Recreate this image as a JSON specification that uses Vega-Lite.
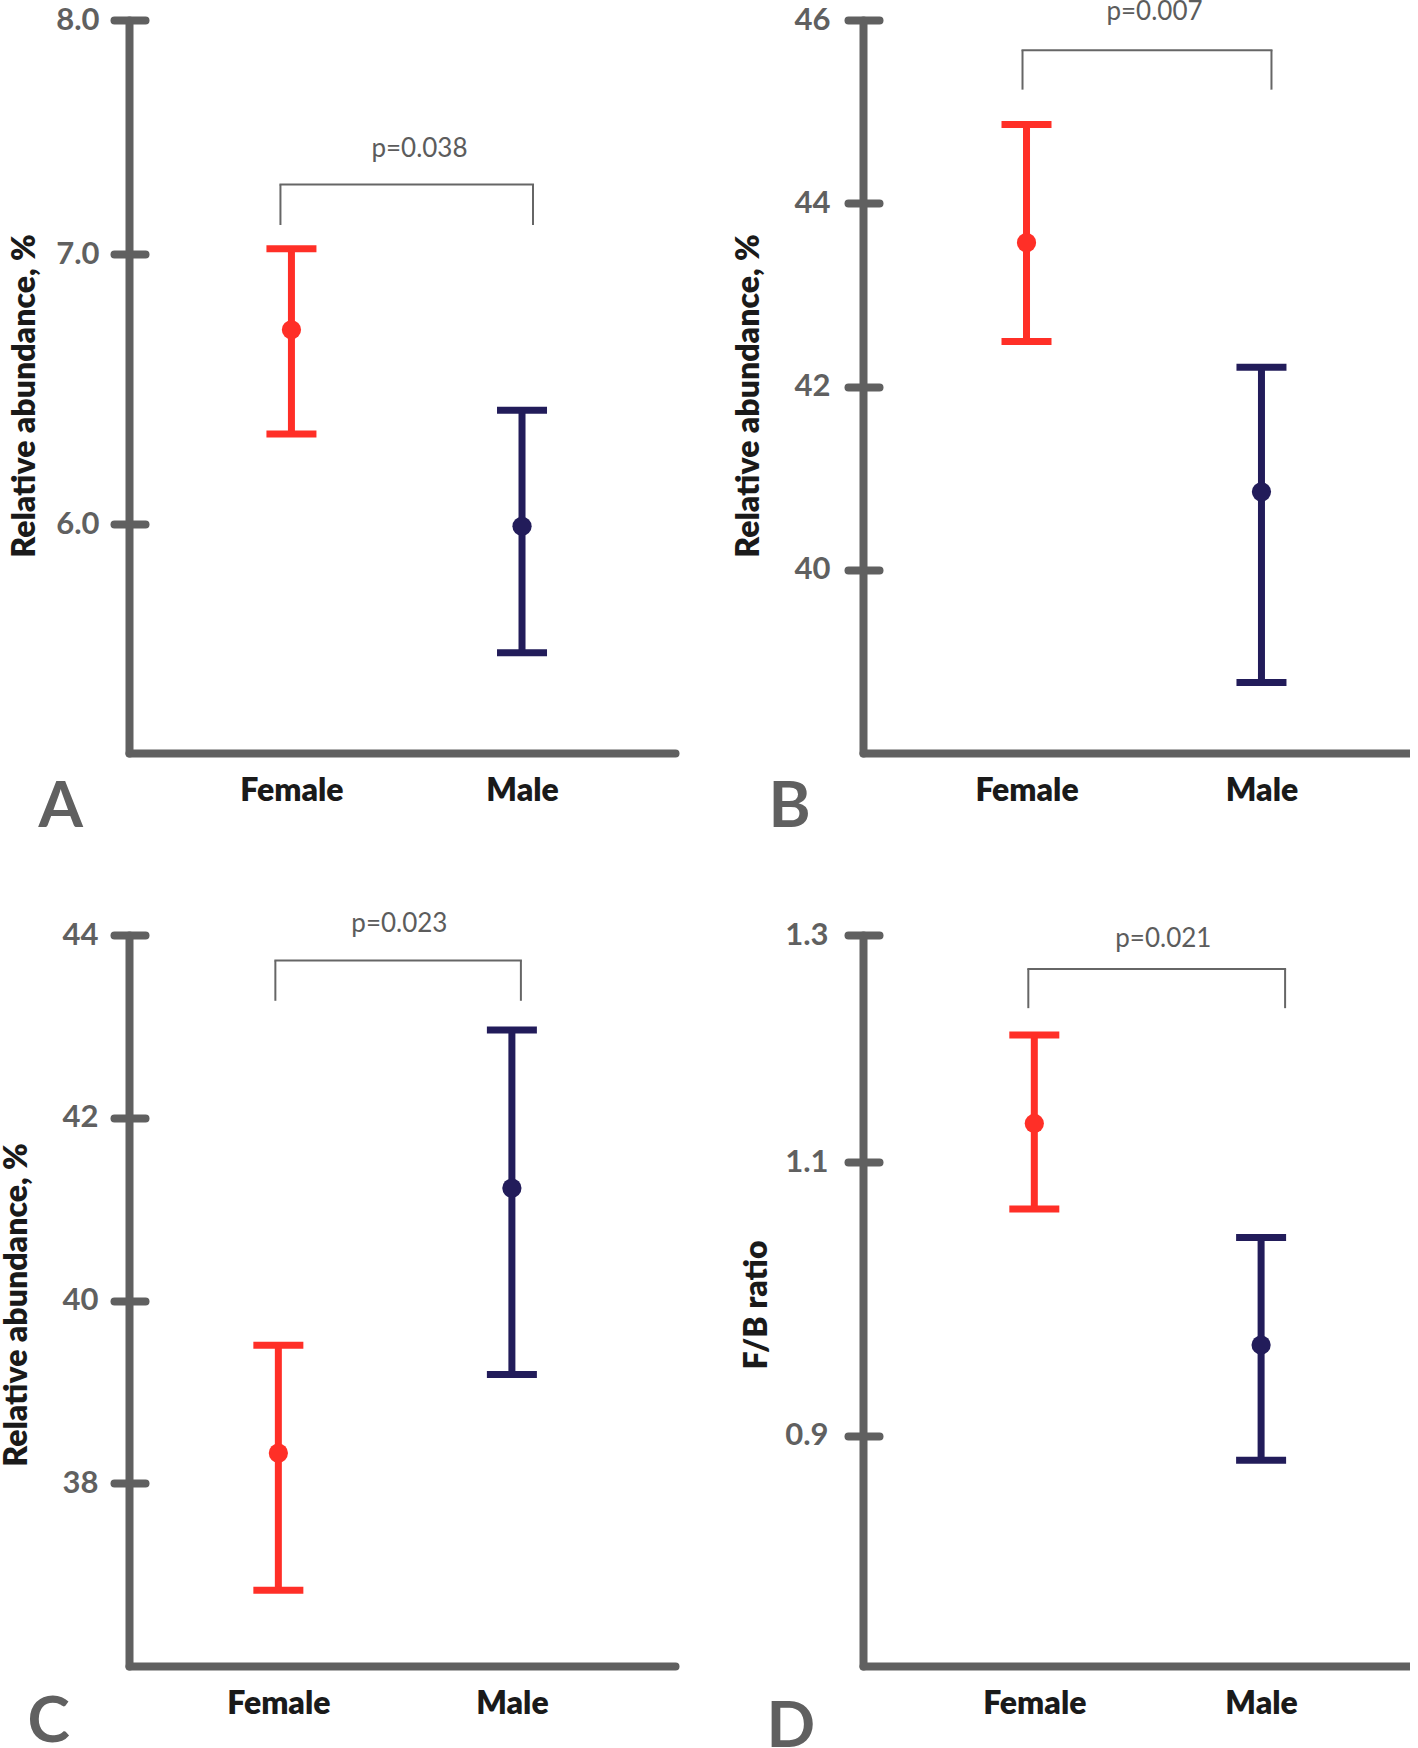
{
  "$schema": "https://vega.github.io/schema/vega-lite/v6.json",
  "background": "white",
  "padding": {"left": 0, "top": -1, "right": 0, "bottom": 0},
  "config": {
    "view": {"stroke": null},
    "tick": {"opacity": 1},
    "axis": {
      "grid": false,
      "labelFont": "Lato",
      "titleFont": "Lato",
      "domainColor": "#606060",
      "domainWidth": 8,
      "domainCap": "round",
      "tickColor": "#606060",
      "labelFlush": false,
      "labelOverlap": false
    },
    "axisY": {
      "ticks": false,
      "labelFontSize": 31,
      "labelFontWeight": "bold",
      "labelColor": "#606060",
      "titleFontSize": 32,
      "titleFontWeight": 800,
      "titleColor": "#1a1a1a",
      "minExtent": 70,
      "maxExtent": 70
    },
    "axisX": {
      "ticks": false,
      "labelFontSize": 32,
      "labelFontWeight": 800,
      "labelColor": "#1a1a1a",
      "labelPadding": 22,
      "labelAngle": 0,
      "titleFontSize": 64,
      "titleFontWeight": "bold",
      "titleColor": "#606060",
      "titleAlign": "left",
      "titleBaseline": "alphabetic",
      "titleAngle": 0
    }
  },
  "datasets": {
    "A": [
      {"sex": "Female", "lo": 6.317, "mean": 6.704, "hi": 7.021},
      {"sex": "Male", "lo": 5.576, "mean": 5.993, "hi": 6.403}
    ],
    "sigA": [{"from": "Female", "to": "Male", "top": 7.283, "leg": 7.117, "ptext": 7.397, "label": "p=0.038"}],
    "B": [
      {"sex": "Female", "lo": 42.49, "mean": 43.57, "hi": 44.86},
      {"sex": "Male", "lo": 38.77, "mean": 40.85, "hi": 42.21}
    ],
    "sigB": [{"from": "Female", "to": "Male", "top": 45.67, "leg": 45.24, "ptext": 46.0, "label": "p=0.007"}],
    "C": [
      {"sex": "Female", "lo": 36.83, "mean": 38.33, "hi": 39.51},
      {"sex": "Male", "lo": 39.19, "mean": 41.23, "hi": 42.96}
    ],
    "sigC": [{"from": "Female", "to": "Male", "top": 43.72, "leg": 43.28, "ptext": 44.03, "label": "p=0.023"}],
    "D": [
      {"sex": "Female", "lo": 1.063, "mean": 1.132, "hi": 1.208},
      {"sex": "Male", "lo": 0.884, "mean": 0.962, "hi": 1.041}
    ],
    "sigD": [{"from": "Female", "to": "Male", "top": 1.268, "leg": 1.232, "ptext": 1.289, "label": "p=0.021"}]
  },
  "columns": 2,
  "spacing": {"row": 72, "column": 57},
  "concat": [
    {
      "width": 546, "height": 733,
      "data": {"name": "A"},
      "layer": [
        {"mark": {"type": "rule", "strokeWidth": 7},
         "encoding": {
           "x": {"field": "sex", "type": "nominal", "scale": {"type": "point", "domain": ["Female", "Male"], "padding": 0.684, "align": 0.515},
                 "axis": {"title": "A", "titleX": -91, "titleY": 73}},
           "y": {"field": "lo", "type": "quantitative", "scale": {"type": "log", "domain": [5.266, 8], "nice": false},
                 "axis": {"title": "Relative abundance, %", "values": [6, 7, 8], "format": ".1f", "labelPadding": 30, "titlePadding": 17.7, "titleY": 375.5}},
           "y2": {"field": "hi"},
           "color": {"field": "sex", "type": "nominal", "scale": {"domain": ["Female", "Male"], "range": ["#ff2f27", "#221c5a"]}, "legend": null}
         }},
        {"mark": {"type": "tick", "thickness": 7, "size": 50, "opacity": 1},
         "encoding": {"x": {"field": "sex", "type": "nominal"}, "y": {"field": "hi", "type": "quantitative", "axis": null}, "color": {"field": "sex", "type": "nominal", "legend": null}}},
        {"mark": {"type": "tick", "thickness": 7, "size": 50, "opacity": 1},
         "encoding": {"x": {"field": "sex", "type": "nominal"}, "y": {"field": "lo", "type": "quantitative", "axis": null}, "color": {"field": "sex", "type": "nominal", "legend": null}}},
        {"mark": {"type": "point", "filled": true, "shape": "circle", "size": 370, "opacity": 1},
         "encoding": {"x": {"field": "sex", "type": "nominal"},
           "y": {"field": "mean", "type": "quantitative",
                 "axis": {"orient": "left", "offset": -16, "domain": false, "labels": false, "ticks": true, "tickSize": 31, "tickWidth": 8, "tickCap": "round", "title": null, "values": [6, 7, 8], "minExtent": 0, "maxExtent": 0}},
           "color": {"field": "sex", "type": "nominal", "legend": null}}},
        {"data": {"name": "sigA"}, "mark": {"type": "rule", "strokeWidth": 2, "color": "#666666", "xOffset": -11, "x2Offset": 11, "strokeCap": "square"},
         "encoding": {"x": {"field": "from", "type": "nominal"}, "x2": {"field": "to"}, "y": {"field": "top", "type": "quantitative", "axis": null}}},
        {"data": {"name": "sigA"}, "mark": {"type": "rule", "strokeWidth": 2, "color": "#666666", "xOffset": -11},
         "encoding": {"x": {"field": "from", "type": "nominal"}, "y": {"field": "top", "type": "quantitative", "axis": null}, "y2": {"field": "leg"}}},
        {"data": {"name": "sigA"}, "mark": {"type": "rule", "strokeWidth": 2, "color": "#666666", "xOffset": 11},
         "encoding": {"x": {"field": "to", "type": "nominal"}, "y": {"field": "top", "type": "quantitative", "axis": null}, "y2": {"field": "leg"}}},
        {"data": {"name": "sigA"}, "mark": {"type": "text", "font": "Lato", "fontSize": 26, "color": "#5c5c5c", "align": "center", "baseline": "alphabetic", "xOffset": 128},
         "encoding": {"x": {"field": "from", "type": "nominal"}, "y": {"field": "ptext", "type": "quantitative", "axis": null}, "text": {"field": "label"}}}
      ],
      "resolve": {"axis": {"y": "independent"}}
    },
    {
      "width": 547, "height": 733,
      "data": {"name": "B"},
      "layer": [
        {"mark": {"type": "rule", "strokeWidth": 7},
         "encoding": {
           "x": {"field": "sex", "type": "nominal", "scale": {"type": "point", "domain": ["Female", "Male"], "padding": 0.664, "align": 0.524},
                 "axis": {"title": "B", "titleX": -95, "titleY": 73}},
           "y": {"field": "lo", "type": "quantitative", "scale": {"domain": [38, 46], "nice": false, "zero": false},
                 "axis": {"title": "Relative abundance, %", "values": [40, 42, 44, 46], "format": "d", "labelPadding": 33, "titlePadding": 27.6, "titleY": 375.5}},
           "y2": {"field": "hi"},
           "color": {"field": "sex", "type": "nominal", "scale": {"domain": ["Female", "Male"], "range": ["#ff2f27", "#221c5a"]}, "legend": null}
         }},
        {"mark": {"type": "tick", "thickness": 7, "size": 50, "opacity": 1},
         "encoding": {"x": {"field": "sex", "type": "nominal"}, "y": {"field": "hi", "type": "quantitative", "axis": null}, "color": {"field": "sex", "type": "nominal", "legend": null}}},
        {"mark": {"type": "tick", "thickness": 7, "size": 50, "opacity": 1},
         "encoding": {"x": {"field": "sex", "type": "nominal"}, "y": {"field": "lo", "type": "quantitative", "axis": null}, "color": {"field": "sex", "type": "nominal", "legend": null}}},
        {"mark": {"type": "point", "filled": true, "shape": "circle", "size": 370, "opacity": 1},
         "encoding": {"x": {"field": "sex", "type": "nominal"},
           "y": {"field": "mean", "type": "quantitative",
                 "axis": {"orient": "left", "offset": -16, "domain": false, "labels": false, "ticks": true, "tickSize": 31, "tickWidth": 8, "tickCap": "round", "title": null, "values": [40, 42, 44, 46], "minExtent": 0, "maxExtent": 0}},
           "color": {"field": "sex", "type": "nominal", "legend": null}}},
        {"data": {"name": "sigB"}, "mark": {"type": "rule", "strokeWidth": 2, "color": "#666666", "xOffset": -4, "x2Offset": 10, "strokeCap": "square"},
         "encoding": {"x": {"field": "from", "type": "nominal"}, "x2": {"field": "to"}, "y": {"field": "top", "type": "quantitative", "axis": null}}},
        {"data": {"name": "sigB"}, "mark": {"type": "rule", "strokeWidth": 2, "color": "#666666", "xOffset": -4},
         "encoding": {"x": {"field": "from", "type": "nominal"}, "y": {"field": "top", "type": "quantitative", "axis": null}, "y2": {"field": "leg"}}},
        {"data": {"name": "sigB"}, "mark": {"type": "rule", "strokeWidth": 2, "color": "#666666", "xOffset": 10},
         "encoding": {"x": {"field": "to", "type": "nominal"}, "y": {"field": "top", "type": "quantitative", "axis": null}, "y2": {"field": "leg"}}},
        {"data": {"name": "sigB"}, "mark": {"type": "text", "font": "Lato", "fontSize": 26, "color": "#5c5c5c", "align": "center", "baseline": "alphabetic", "xOffset": 128},
         "encoding": {"x": {"field": "from", "type": "nominal"}, "y": {"field": "ptext", "type": "quantitative", "axis": null}, "text": {"field": "label"}}}
      ],
      "resolve": {"axis": {"y": "independent"}}
    },
    {
      "width": 546, "height": 731,
      "data": {"name": "C"},
      "layer": [
        {"mark": {"type": "rule", "strokeWidth": 7},
         "encoding": {
           "x": {"field": "sex", "type": "nominal", "scale": {"type": "point", "domain": ["Female", "Male"], "padding": 0.669, "align": 0.478},
                 "axis": {"title": "C", "titleX": -102, "titleY": 75}},
           "y": {"field": "lo", "type": "quantitative", "scale": {"domain": [36, 44], "nice": false, "zero": false},
                 "axis": {"title": "Relative abundance, %", "values": [38, 40, 42, 44], "format": "d", "labelPadding": 31, "titlePadding": 25.5, "titleY": 369.5}},
           "y2": {"field": "hi"},
           "color": {"field": "sex", "type": "nominal", "scale": {"domain": ["Female", "Male"], "range": ["#ff2f27", "#221c5a"]}, "legend": null}
         }},
        {"mark": {"type": "tick", "thickness": 7, "size": 50, "opacity": 1},
         "encoding": {"x": {"field": "sex", "type": "nominal"}, "y": {"field": "hi", "type": "quantitative", "axis": null}, "color": {"field": "sex", "type": "nominal", "legend": null}}},
        {"mark": {"type": "tick", "thickness": 7, "size": 50, "opacity": 1},
         "encoding": {"x": {"field": "sex", "type": "nominal"}, "y": {"field": "lo", "type": "quantitative", "axis": null}, "color": {"field": "sex", "type": "nominal", "legend": null}}},
        {"mark": {"type": "point", "filled": true, "shape": "circle", "size": 370, "opacity": 1},
         "encoding": {"x": {"field": "sex", "type": "nominal"},
           "y": {"field": "mean", "type": "quantitative",
                 "axis": {"orient": "left", "offset": -16, "domain": false, "labels": false, "ticks": true, "tickSize": 31, "tickWidth": 8, "tickCap": "round", "title": null, "values": [38, 40, 42, 44], "minExtent": 0, "maxExtent": 0}},
           "color": {"field": "sex", "type": "nominal", "legend": null}}},
        {"data": {"name": "sigC"}, "mark": {"type": "rule", "strokeWidth": 2, "color": "#666666", "xOffset": -3, "x2Offset": 9, "strokeCap": "square"},
         "encoding": {"x": {"field": "from", "type": "nominal"}, "x2": {"field": "to"}, "y": {"field": "top", "type": "quantitative", "axis": null}}},
        {"data": {"name": "sigC"}, "mark": {"type": "rule", "strokeWidth": 2, "color": "#666666", "xOffset": -3},
         "encoding": {"x": {"field": "from", "type": "nominal"}, "y": {"field": "top", "type": "quantitative", "axis": null}, "y2": {"field": "leg"}}},
        {"data": {"name": "sigC"}, "mark": {"type": "rule", "strokeWidth": 2, "color": "#666666", "xOffset": 9},
         "encoding": {"x": {"field": "to", "type": "nominal"}, "y": {"field": "top", "type": "quantitative", "axis": null}, "y2": {"field": "leg"}}},
        {"data": {"name": "sigC"}, "mark": {"type": "text", "font": "Lato", "fontSize": 26, "color": "#5c5c5c", "align": "center", "baseline": "alphabetic", "xOffset": 121},
         "encoding": {"x": {"field": "from", "type": "nominal"}, "y": {"field": "ptext", "type": "quantitative", "axis": null}, "text": {"field": "label"}}}
      ],
      "resolve": {"axis": {"y": "independent"}}
    },
    {
      "width": 547, "height": 731,
      "data": {"name": "D"},
      "layer": [
        {"mark": {"type": "rule", "strokeWidth": 7},
         "encoding": {
           "x": {"field": "sex", "type": "nominal", "scale": {"type": "point", "domain": ["Female", "Male"], "padding": 0.706, "align": 0.535},
                 "axis": {"title": "D", "titleX": -97, "titleY": 80}},
           "y": {"field": "lo", "type": "quantitative", "scale": {"type": "log", "domain": [0.76, 1.3], "nice": false},
                 "axis": {"title": "F/B ratio", "values": [0.9, 1.1, 1.3], "format": ".1f", "labelPadding": 35, "titlePadding": 20, "titleY": 369.5}},
           "y2": {"field": "hi"},
           "color": {"field": "sex", "type": "nominal", "scale": {"domain": ["Female", "Male"], "range": ["#ff2f27", "#221c5a"]}, "legend": null}
         }},
        {"mark": {"type": "tick", "thickness": 7, "size": 50, "opacity": 1},
         "encoding": {"x": {"field": "sex", "type": "nominal"}, "y": {"field": "hi", "type": "quantitative", "axis": null}, "color": {"field": "sex", "type": "nominal", "legend": null}}},
        {"mark": {"type": "tick", "thickness": 7, "size": 50, "opacity": 1},
         "encoding": {"x": {"field": "sex", "type": "nominal"}, "y": {"field": "lo", "type": "quantitative", "axis": null}, "color": {"field": "sex", "type": "nominal", "legend": null}}},
        {"mark": {"type": "point", "filled": true, "shape": "circle", "size": 370, "opacity": 1},
         "encoding": {"x": {"field": "sex", "type": "nominal"},
           "y": {"field": "mean", "type": "quantitative",
                 "axis": {"orient": "left", "offset": -16, "domain": false, "labels": false, "ticks": true, "tickSize": 31, "tickWidth": 8, "tickCap": "round", "title": null, "values": [0.9, 1.1, 1.3], "minExtent": 0, "maxExtent": 0}},
           "color": {"field": "sex", "type": "nominal", "legend": null}}},
        {"data": {"name": "sigD"}, "mark": {"type": "rule", "strokeWidth": 2, "color": "#666666", "xOffset": -6, "x2Offset": 24, "strokeCap": "square"},
         "encoding": {"x": {"field": "from", "type": "nominal"}, "x2": {"field": "to"}, "y": {"field": "top", "type": "quantitative", "axis": null}}},
        {"data": {"name": "sigD"}, "mark": {"type": "rule", "strokeWidth": 2, "color": "#666666", "xOffset": -6},
         "encoding": {"x": {"field": "from", "type": "nominal"}, "y": {"field": "top", "type": "quantitative", "axis": null}, "y2": {"field": "leg"}}},
        {"data": {"name": "sigD"}, "mark": {"type": "rule", "strokeWidth": 2, "color": "#666666", "xOffset": 24},
         "encoding": {"x": {"field": "to", "type": "nominal"}, "y": {"field": "top", "type": "quantitative", "axis": null}, "y2": {"field": "leg"}}},
        {"data": {"name": "sigD"}, "mark": {"type": "text", "font": "Lato", "fontSize": 26, "color": "#5c5c5c", "align": "center", "baseline": "alphabetic", "xOffset": 129},
         "encoding": {"x": {"field": "from", "type": "nominal"}, "y": {"field": "ptext", "type": "quantitative", "axis": null}, "text": {"field": "label"}}}
      ],
      "resolve": {"axis": {"y": "independent"}}
    }
  ]
}
